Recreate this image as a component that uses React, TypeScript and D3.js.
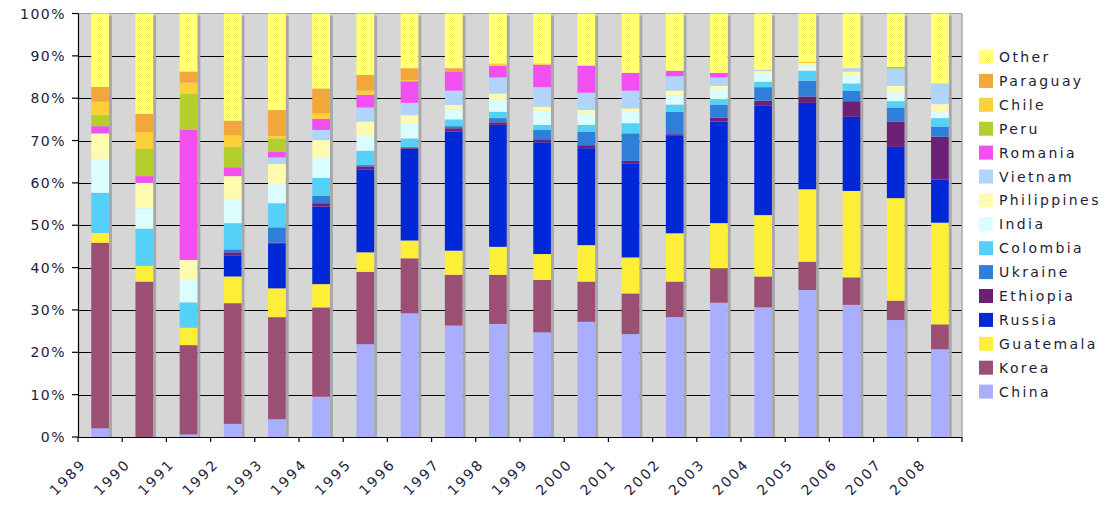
import React from "react";
import * as d3 from "d3";

const years = ["1989","1990","1991","1992","1993","1994","1995","1996","1997","1998","1999","2000","2001","2002","2003","2004","2005","2006","2007","2008"];

const china = [2.05, 0, 0.6, 3.1, 4.2, 9.5, 21.9, 29.2, 26.3, 26.7, 24.7, 27.2, 24.3, 28.3, 31.7, 30.6, 34.7, 31.2, 27.6, 20.7];
const korea = [43.8, 36.7, 21.1, 28.5, 24.1, 21.1, 17.1, 13.0, 12.0, 11.6, 12.4, 9.5, 9.6, 8.4, 8.1, 7.3, 6.7, 6.5, 4.6, 5.9];
const guatemala = [2.3, 3.7, 4.1, 6.3, 6.8, 5.5, 4.6, 4.2, 5.7, 6.6, 6.1, 8.6, 8.5, 11.4, 10.7, 14.5, 17.1, 20.4, 24.2, 24.0];
const russia = [0, 0, 0, 5.0, 10.5, 18.3, 19.6, 21.7, 28.1, 28.8, 26.4, 22.9, 22.1, 23.0, 24.0, 25.8, 20.4, 17.5, 12.1, 10.2];
const ethiopia = [0, 0, 0, 0.7, 0.3, 0.8, 0.7, 0.2, 0.8, 0.6, 0.7, 0.7, 0.7, 0.4, 0.9, 1.2, 1.5, 3.7, 6.0, 10.1];
const ukraine = [0, 0, 0, 0.7, 3.6, 1.7, 0.3, 0.2, 0.5, 1.0, 2.2, 3.2, 6.5, 5.3, 3.1, 3.2, 3.7, 2.4, 3.3, 2.4];
const colombia = [9.5, 8.8, 6.0, 6.2, 5.7, 4.3, 3.4, 2.0, 1.6, 1.5, 1.2, 1.6, 2.4, 1.7, 1.3, 1.3, 2.4, 1.8, 1.5, 2.0];
const india = [8.0, 4.8, 5.3, 5.5, 4.5, 4.8, 3.7, 3.7, 2.4, 2.9, 3.3, 2.7, 2.7, 2.1, 2.4, 2.0, 1.2, 2.0, 2.0, 1.7];
const philippines = [6.0, 6.0, 4.7, 5.6, 4.8, 4.1, 3.2, 1.8, 1.0, 1.4, 1.0, 0.8, 0.8, 1.2, 0.7, 0.5, 0.6, 0.8, 1.6, 1.6];
const vietnam = [0, 0, 0, 0, 1.5, 2.4, 3.3, 2.9, 3.4, 3.8, 4.6, 4.1, 4.2, 3.4, 2.0, 0.3, 0, 0.8, 4.1, 4.9];
const romania = [1.7, 1.6, 30.7, 2.1, 1.4, 2.6, 3.0, 5.1, 4.5, 2.8, 5.3, 6.4, 4.2, 1.3, 1.1, 0, 0, 0, 0, 0];
const peru = [2.6, 6.4, 8.5, 4.8, 3.1, 0, 0, 0, 0, 0, 0, 0, 0, 0, 0, 0, 0, 0, 0.4, 0];
const chile = [3.2, 4.0, 2.7, 2.7, 0.6, 1.3, 1.0, 0.3, 0, 0.5, 0.3, 0, 0, 0, 0, 0, 0.3, 0, 0, 0];
const paraguay = [3.5, 4.3, 2.6, 3.5, 6.1, 5.9, 3.7, 2.8, 0.8, 0, 0, 0, 0, 0, 0, 0, 0, 0, 0, 0];
const other = [17.3, 23.7, 13.7, 25.3, 22.8, 17.7, 14.5, 12.9, 12.9, 11.8, 11.8, 12.3, 14.0, 13.5, 14.0, 13.3, 11.4, 12.9, 12.6, 16.5];

const seriesNames = ["China","Korea","Guatemala","Russia","Ethiopia","Ukraine","Colombia","India","Philippines","Vietnam","Romania","Peru","Chile","Paraguay","Other"];
const seriesValues = [china, korea, guatemala, russia, ethiopia, ukraine, colombia, india, philippines, vietnam, romania, peru, chile, paraguay, other];
const seriesColors = ["#a9aefe","#9c4f75","#fdee38","#0028d6","#6e1f77","#2f7ed8","#55d0f8","#dcfdfe","#fefbb0","#b0d4fa","#f24ff2","#b2cf2e","#fcd03a","#f2a73b","url(#otherPat)"];
const yTicks = [0,10,20,30,40,50,60,70,80,90,100];

export default function App() {
  const W = 1106, H = 506;
  const left = 78, right = 962, top = 13.5, bottom = 437;

  const table = years.map((yr, i) => {
    const row: any = { year: yr };
    seriesNames.forEach((n, k) => { row[n] = seriesValues[k][i]; });
    return row;
  });
  const stack = d3.stack().keys(seriesNames).offset(d3.stackOffsetExpand);
  const layers = stack(table);

  const x = d3.scaleBand().domain(years).range([left, right]).paddingInner(0.6).paddingOuter(0.3);
  const y = d3.scaleLinear().domain([0, 1]).range([bottom, top]);
  const yp = d3.scaleLinear().domain([0, 100]).range([bottom, top]);
  const font = "'DejaVu Sans', Verdana, sans-serif";
  const textColor = "#1c1c3c";

  const legendOrder = [...seriesNames].reverse();

  return (
    <div style={{ position: "absolute", left: 0, top: 0 }}>
      <svg width={W} height={H} style={{ display: "block", background: "#fff" }}>
        <defs>
          <pattern id="otherPat" width="2" height="2" patternUnits="userSpaceOnUse">
            <rect width="2" height="2" fill="#ffffc8" />
            <rect width="1" height="1" fill="#fff868" />
            <rect x="1" y="1" width="1" height="1" fill="#fff868" />
          </pattern>
        </defs>
        <rect x={left} y={top} width={right - left} height={bottom - top} fill="#d6d6d6" />
        {yTicks.filter(t => t > 0 && t < 100).map(t => (
          <line key={t} x1={left} x2={right} y1={Math.round(yp(t)) + 0.5} y2={Math.round(yp(t)) + 0.5} stroke="#000" strokeWidth={1} />
        ))}
        <line x1={left} x2={right} y1={top} y2={top} stroke="#999" strokeWidth={1.2} />
        <line x1={right} x2={right} y1={top} y2={bottom} stroke="#999" strokeWidth={1.2} />
        {years.map((yr, i) => {
          const topVal = layers[layers.length - 1][i][1];
          return (
            <rect key={"s" + yr} x={(x(yr) as number) + x.bandwidth()} y={y(topVal) + 2} width={3} height={bottom - y(topVal) - 2} fill="#a8a8a8" />
          );
        })}
        {layers.map((layer, k) => (
          <g key={seriesNames[k]}>
            {layer.map((d, i) => {
              const h = y(d[0]) - y(d[1]);
              if (h <= 0) return null;
              return <rect key={i} x={x(years[i]) as number} y={y(d[1])} width={x.bandwidth()} height={h} fill={seriesColors[k]} />;
            })}
          </g>
        ))}
        <line x1={left + 0.5} x2={left + 0.5} y1={top} y2={bottom} stroke="#000" strokeWidth={1.2} />
        <line x1={left} x2={right} y1={bottom + 0.5} y2={bottom + 0.5} stroke="#000" strokeWidth={1.2} />
        {yTicks.map(t => (
          <g key={"yt" + t}>
            <line x1={left - 6} x2={left} y1={yp(t)} y2={yp(t)} stroke="#000" strokeWidth={1.2} />
            <text x={left - 12} y={yp(t)} dy="0.36em" textAnchor="end" fontFamily={font} fontSize={14} letterSpacing={1.5} fill={textColor}>{t + "%"}</text>
          </g>
        ))}
        {d3.range(years.length + 1).map(i => {
          const xx = left + i * ((right - left) / years.length);
          return <line key={"xt" + i} x1={xx} x2={xx} y1={bottom} y2={bottom + 5} stroke="#000" strokeWidth={1.2} />;
        })}
        {years.map(yr => {
          const cx = (x(yr) as number) + x.bandwidth() / 2;
          return (
            <text key={"xl" + yr} transform={`translate(${cx - 20},${bottom + 21}) rotate(-45)`} textAnchor="end" dy="0.7em" fontFamily={font} fontSize={14} letterSpacing={2.2} fill={textColor}>{yr}</text>
          );
        })}
        {legendOrder.map((n, j) => {
          const k = seriesNames.indexOf(n);
          const cy = 57 + j * 23.9;
          return (
            <g key={"lg" + n}>
              <rect x={979} y={cy - 7} width={14} height={14} fill={seriesColors[k]} />
              <text x={999} y={cy} dy="0.36em" fontFamily={font} fontSize={14} letterSpacing={2.4} fill={textColor}>{n}</text>
            </g>
          );
        })}
      </svg>
    </div>
  );
}
